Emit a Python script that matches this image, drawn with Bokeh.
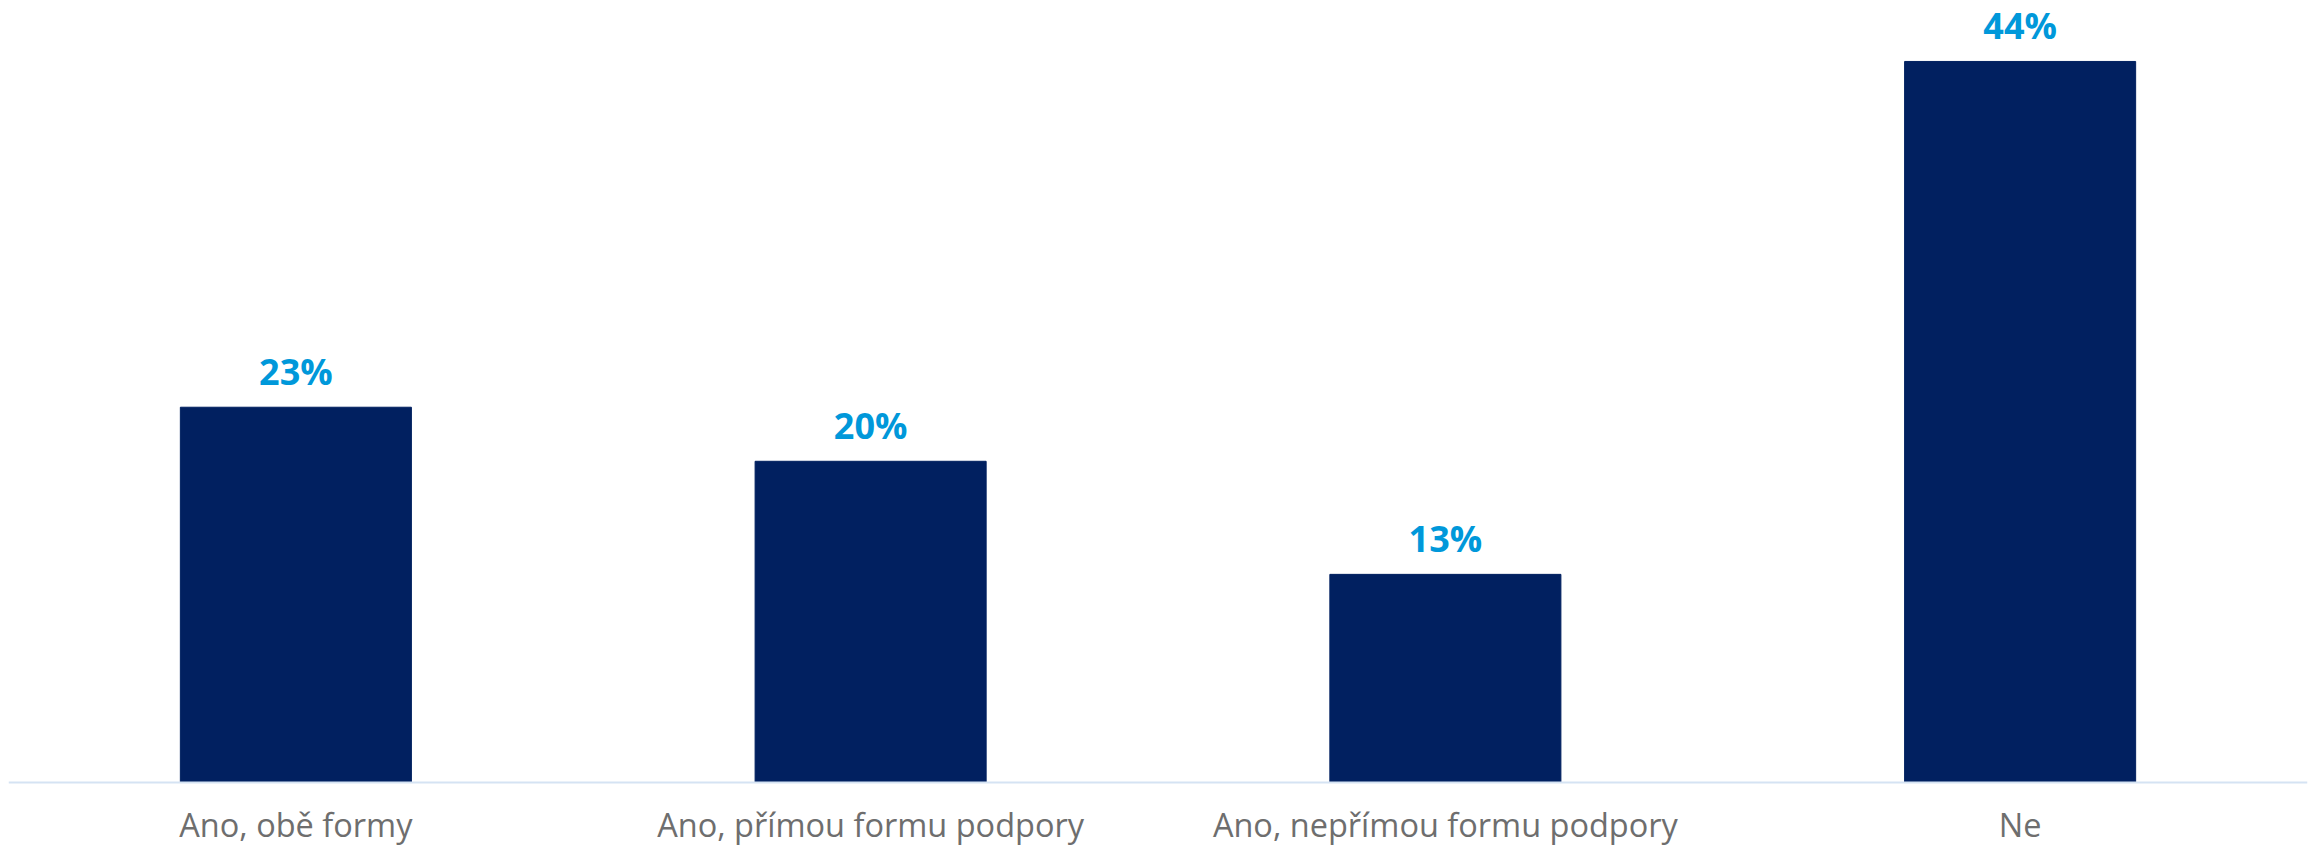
from bokeh.plotting import figure
from bokeh.models import ColumnDataSource, Range1d, FactorRange, Span
from bokeh.core.properties import value
from bokeh.embed import file_html
from bokeh.resources import INLINE

categories = ["Ano, obě formy", "Ano, přímou formu podpory", "Ano, nepřímou formu podpory", "Ne"]
values = [22.9, 19.6, 12.7, 44.0]
labels = [f"{round(v)}%" for v in values]

src = ColumnDataSource(dict(cat=categories, val=values, lab=labels, zero=[0] * len(categories)))

p = figure(
    x_range=FactorRange(*categories, range_padding=0),
    y_range=Range1d(-4.09, 47.72),
    width=2318, height=849,
    output_backend="svg", toolbar_location=None,
    min_border_left=8, min_border_right=11, min_border_top=0, min_border_bottom=0,
)

p.vbar(x="cat", top="val", bottom=0, width=0.402, source=src, color="#012060", line_color="#012060")

p.add_layout(Span(location=0, dimension="width", line_color="#D5E3F3", line_width=2))

p.text(x="cat", y="val", text="lab", source=src, y_offset=-36,
       text_align="center", text_baseline="alphabetic",
       text_font=value("Open Sans"), text_font_style="bold",
       text_font_size=value("36px"), text_color="#0098DA")

p.text(x="cat", y="zero", text="cat", source=src, y_offset=42,
       text_align="center", text_baseline="alphabetic",
       text_font=value("Open Sans"), text_font_size=value("32.5px"),
       text_color="#6E6E6E")

p.xaxis.visible = False
p.yaxis.visible = False
p.xgrid.visible = False
p.ygrid.visible = False
p.outline_line_color = None
p.background_fill_color = "white"
p.border_fill_color = "white"

open("out.html", "w").write(file_html(p, INLINE))
